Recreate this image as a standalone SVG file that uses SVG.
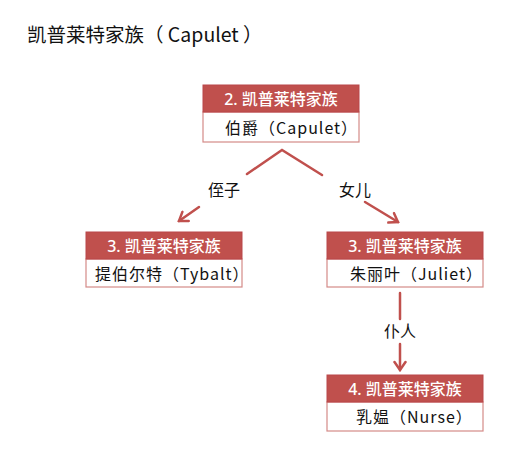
<svg xmlns="http://www.w3.org/2000/svg" width="527" height="469" viewBox="0 0 527 469">
<style>
.hdr{fill:#C0504D;stroke:#B9474A;stroke-width:1}
.body{fill:#ffffff;stroke:#D48A88;stroke-width:1.2}
.ht{font-family:"Noto Sans","Noto Sans CJK SC",sans-serif;font-size:16px;font-weight:500;fill:#ffffff;text-anchor:middle}
.bt{font-family:"Noto Sans CJK SC","Noto Sans",sans-serif;font-size:16px;letter-spacing:1px;fill:#111111}
.lbl{font-family:"Noto Sans CJK SC",sans-serif;font-size:16px;fill:#111111;text-anchor:middle}
.ttl{font-family:"Noto Sans CJK SC","Noto Sans",sans-serif;font-size:19.5px;fill:#111111}
.con{stroke:#C0504D;stroke-width:2.5;fill:none;stroke-linecap:round}
</style>
<defs>
<marker id="arr" viewBox="-10 -7 12 14" refX="0" refY="0" markerWidth="12" markerHeight="14" markerUnits="userSpaceOnUse" orient="auto">
<path d="M-8,-5.5 L0,0 L-8,5.5" fill="none" stroke="#C0504D" stroke-width="2.5" stroke-linecap="round" stroke-linejoin="miter"/>
</marker>
</defs>
<rect width="527" height="469" fill="#ffffff"/>
<text class="ttl" x="27" y="42">凯普莱特家族（ Capulet ）</text>

<g id="connectors">
<path class="con" d="M247,174 L282,150 L322,175"/>
<path class="con" d="M199,207 L179,221" marker-end="url(#arr)"/>
<path class="con" d="M365,202 L398,222" marker-end="url(#arr)"/>
<path class="con" d="M400,293 L400,319"/>
<path class="con" d="M400,344 L400,370" marker-end="url(#arr)"/>
<text class="lbl" x="224" y="196">侄子</text>
<text class="lbl" x="355" y="196">女儿</text>
<text class="lbl" x="400" y="337">仆人</text>
</g>

<g id="node-capulet">
<rect class="body" x="203" y="112" width="156" height="30"/>
<rect class="hdr" x="203" y="85" width="156" height="27"/>
<text class="ht" x="281" y="105">2. 凯普莱特家族</text>
<text class="bt" x="225" y="134">伯爵（Capulet）</text>
</g>

<g id="node-tybalt">
<rect class="body" x="86" y="259" width="156" height="28"/>
<rect class="hdr" x="86" y="232" width="156" height="27"/>
<text class="ht" x="164" y="252">3. 凯普莱特家族</text>
<text class="bt" x="95" y="280">提伯尔特（Tybalt）</text>
</g>

<g id="node-juliet">
<rect class="body" x="327" y="259" width="156" height="28"/>
<rect class="hdr" x="327" y="232" width="156" height="27"/>
<text class="ht" x="405" y="252">3. 凯普莱特家族</text>
<text class="bt" x="350" y="280">朱丽叶（Juliet）</text>
</g>

<g id="node-nurse">
<rect class="body" x="327" y="402" width="156" height="29"/>
<rect class="hdr" x="327" y="375" width="156" height="27"/>
<text class="ht" x="405" y="395">4. 凯普莱特家族</text>
<text class="bt" x="356" y="423">乳媪（Nurse）</text>
</g>
</svg>
